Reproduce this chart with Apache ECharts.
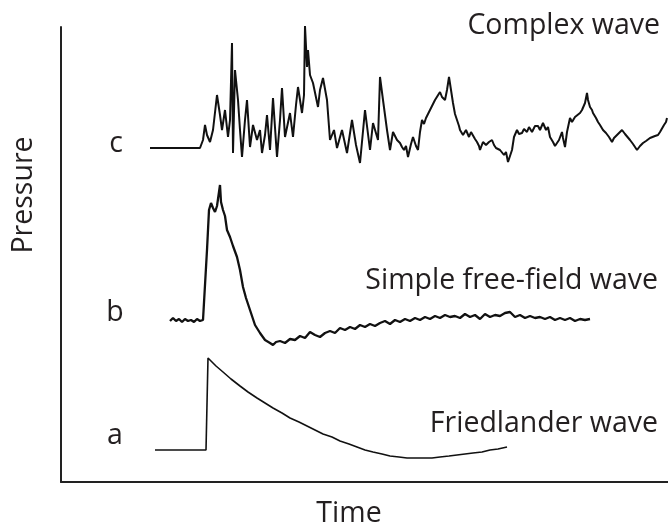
<!DOCTYPE html>
<html>
<head>
<meta charset="utf-8">
<script src="https://cdn.jsdelivr.net/npm/echarts@6/dist/echarts.min.js"></script>
<style>html,body{margin:0;padding:0;background:#fff}#c{width:668px;height:527px}</style>
</head>
<body>
<div id="c"></div>
<script>
// Friedlander wave (a)
const aTime = [94,145,147,155,162,170,179,187,196,204,212,221,229,238,246,254,262,271,279,288,296,304,312,321,329,338,346,354,362,371,379,388,396,404,412,421,429,437,446];
const aPressure = [32,32,124,116,110,103,96,90,84,79,74,69,64,60,56,52,48,45,41,38,35,32,30,28,26,25,24,24,24,24,25,26,27,28,29,30,32,33,35];

// Simple free-field wave (b)
const bTime = [109,112,115,118,121,124,127,130,133,136,139,142,144,146,148,150,152,154,156,158,159,160,162,164,166,169,172,176,179,182,185,189,194,199,204,209,212,215,
  219,224,229,234,239,244,249,254,259,264,269,274,279,284,289,294,299,304,309,314,319,324,329,334,339,344,349,354,359,364,369,374,379,384,389,394,399,404,409,414,419,424,429,434,439,444,449,454,459,464,469,474,479,484,489,494,499,504,509,514,519,524,529];
const bPressure = [161,164,161,163,160,163,161,162,160,163,161,162,162,232,272,279,274,270,276,290,297,280,272,266,252,245,236,225,212,195,184,172,157,149,142,139,137,140,
  141,139,143,142,146,144,150,147,145,149,151,149,154,152,155,153,157,155,158,156,159,161,158,162,160,163,161,164,162,165,163,166,164,167,165,166,164,168,165,167,163,168,165,167,166,169,170,165,167,164,166,164,165,163,165,162,164,162,164,161,163,162,163];

// Complex wave (c)
const cTime = [89,114,139,142,144,146,149,152,156,159,161,164,167,169,171,172,174,177,179,181,184,186,189,192,196,199,201,204,206,209,212,216,219,221,224,229,232,235,237,241,243,244,246,247,249,252,257,259,262,266,269,273,276,281,286,291,295,299,304,309,312,317,319,322,326,329,332,336,
  339,341,343,345,347,350,352,355,357,359,
  361,363,365,367,369,371,374,376,379,381,
  384,386,388,390,392,394,396,398,399,402,
  405,408,410,412,414,416,418,419,422,425,
  428,431,433,435,437,439,441,443,445,447,
  449,451,453,456,458,461,463,466,468,469,
  471,472,474,477,479,482,485,487,489,492,
  494,496,498,501,502,504,506,509,511,514,
  516,519,521,524,526,527,529,531,532,535,
  537,539,542,545,548,551,553,556,558,561,
  564,566,569,572,574,576,579,582,585,587,
  589,591,594,597,599,601,603,605,606];
const cPressure = [334,334,334,342,357,347,340,352,387,367,352,372,345,362,439,329,412,382,352,325,362,382,335,357,342,352,329,347,367,332,384,325,362,394,345,369,345,377,395,369,387,456,415,432,407,399,375,392,404,382,342,352,334,352,329,362,337,319,372,332,359,342,405,382,352,332,350,342,
  339,335,332,336,325,338,345,336,332,350,
  362,358,364,368,372,370,382,380,390,385,
  382,392,405,392,379,368,362,356,352,347,
  352,345,350,349,343,340,336,332,340,337,
  340,342,337,334,336,332,330,327,330,320,
  326,332,345,352,348,349,353,350,355,354,
  350,352,356,356,352,359,352,355,345,340,
  336,334,342,350,344,335,350,364,360,365,
  363,369,372,379,389,382,375,372,369,364,
  360,357,352,349,345,340,344,347,346,352,
  348,346,342,338,335,332,336,339,341,343,
  344,342,346,347,350,352,357,360,364];

const labels = {c: 'Complex wave', b: 'Simple free-field wave', a: 'Friedlander wave'};
const xName = 'Time', yName = 'Pressure';

const zip = (t, p) => t.map((v, i) => [v, p[i]]);
const chart = echarts.init(document.getElementById('c'), null, {renderer: 'canvas'});
const FONT = '28.5px "Open Sans"';
const TXT = '#231f20';
function txt(text, x, y, align, rot) {
  return {type: 'text', x: x, y: y, rotation: rot || 0,
    style: {text: text, font: FONT, fill: TXT, align: align, verticalAlign: 'middle'}};
}
chart.setOption({
  animation: false,
  grid: {left: 61, right: 0, top: 27, bottom: 45},
  xAxis: {type: 'value', min: 0, max: 607,
    axisLine: {show: true, onZero: false, lineStyle: {color: '#222', width: 2}},
    axisTick: {show: false}, axisLabel: {show: false}, splitLine: {show: false}},
  yAxis: {type: 'value', min: 0, max: 455,
    axisLine: {show: true, onZero: false, lineStyle: {color: '#222', width: 2}},
    axisTick: {show: false}, axisLabel: {show: false}, splitLine: {show: false}},
  series: [
    {type: 'line', data: zip(aTime, aPressure), showSymbol: false, clip: false,
      lineStyle: {color: '#111', width: 1.6}},
    {type: 'line', data: zip(bTime, bPressure), showSymbol: false, clip: false, lineStyle: {color: '#111', width: 2.3}},
    {type: 'line', data: zip(cTime, cPressure), showSymbol: false, clip: false, lineStyle: {color: '#111', width: 2}}
  ],
  graphic: [
    txt(labels.c, 660, 26, 'right'),
    txt(labels.b, 658, 281, 'right'),
    txt(labels.a, 658, 424, 'right'),
    txt('c', 116, 144, 'center'),
    txt('b', 115, 313, 'center'),
    txt('a', 115, 436, 'center'),
    txt(xName, 349, 514, 'center'),
    txt(yName, 24, 195, 'center', Math.PI / 2)
  ]
});
</script>
</body>
</html>
